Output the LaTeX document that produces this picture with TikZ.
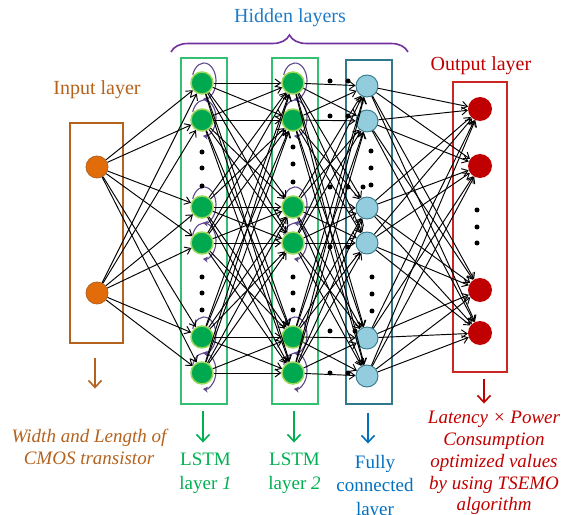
\documentclass[tikz,border=0pt]{standalone}
\usepackage{fontspec}
\setmainfont{Liberation Serif}
\usepackage{xcolor}
\usepackage{tikz}
\usetikzlibrary{positioning, arrows.meta, decorations.pathreplacing, backgrounds}

\definecolor{inbrown}{HTML}{B4621E}
\definecolor{inorange}{HTML}{E36C0A}
\definecolor{lgreen}{HTML}{00B050}
\definecolor{lgreenfill}{HTML}{00A84F}
\definecolor{lgreenedge}{HTML}{9BD85A}
\definecolor{loopviolet}{HTML}{5E4A8C}
\definecolor{fcfill}{HTML}{93CDDD}
\definecolor{fcedge}{HTML}{31788C}
\definecolor{fcblue}{HTML}{0070C0}
\definecolor{outred}{HTML}{C00000}
\definecolor{bracepurple}{HTML}{7030A0}
\definecolor{hidblue}{HTML}{1F7BC8}

\begin{document}
\begin{tikzpicture}[x=1pt,y=1pt]
	\tikzstyle{neuron}=[circle,minimum size=22pt,inner sep=0pt]
	\tikzstyle{innode}=[neuron,fill=inorange,draw=inbrown,line width=0.8pt]
	\tikzstyle{lstmnode}=[neuron,fill=lgreenfill,draw=lgreenedge,line width=1.5pt]
	\tikzstyle{fcnode}=[neuron,fill=fcfill,draw=fcedge,line width=0.9pt]
	\tikzstyle{outnode}=[neuron,minimum size=24pt,fill=outred]
	\tikzstyle{layerbox}=[rectangle,line width=1.1pt,inner sep=0pt]
	\tikzstyle{smalldot}=[circle,fill=black,inner sep=0pt,minimum size=5pt]
	\tikzstyle{link}=[line width=0.95pt,-{Straight Barb[length=5.5pt,width=8pt]}]
	\tikzstyle{rloop}=[line width=1.1pt,loopviolet,-{Stealth[length=5pt,width=6pt]}]
	\tikzstyle{downarrow}=[line width=1.6pt,-{Straight Barb[length=7pt,width=13pt]}]
	\tikzstyle{headtext}=[font=\fontsize{20}{24}\selectfont]
	\tikzstyle{foottext}=[font=\fontsize{19}{23.5}\selectfont,align=center,anchor=north,inner sep=0pt]
	\tikzstyle{footital}=[foottext,font=\fontsize{19}{21.8}\selectfont\itshape]

	\useasboundingbox (0,0) rectangle (566,515);

	% layer boxes
	\node[layerbox,draw=inbrown,minimum width=53pt,minimum height=220pt](inbox) at (96.5,282) {};
	\node[layerbox,draw=lgreen!80!white,minimum width=46pt,minimum height=346pt](lstmbox1) at (204,284) {};
	\node[layerbox,draw=lgreen!80!white,minimum width=46pt,minimum height=346pt](lstmbox2) at (295,284) {};
	\node[layerbox,draw=fcedge,minimum width=46pt,minimum height=344pt](fcbox) at (369,283) {};
	\node[layerbox,draw=outred!85!white,minimum width=54pt,minimum height=290pt](outbox) at (480,288) {};

	% neurons
	\node[innode](i1) at (97,348) {};
	\node[innode](i2) at (97,222) {};
	\foreach \r [count=\k] in {432,395,308,272,178,142} {
		\node[lstmnode](a\k) at (202,\r) {};
		\node[lstmnode](b\k) at (293,\r) {};
	}
	\foreach \r [count=\k] in {429,394,307,272,177,139}
		\node[fcnode](c\k) at (367,\r) {};
	\foreach \r [count=\k] in {406,349,225,182}
		\node[outnode](o\k) at (480,\r) {};

	% dots
	\foreach \x/\y [count=\k] in {202/363,202/347,202/329,202/238,202/222,202/205,
		293/368,293/351,293/333,293/238,293/222,293/205,
		371/364,371/347,371/330,363/328,372/238,372/221,372/204,
		477/305,477/288,477/272,
		330/434,348/434,330/399,348/399,330/328,348/328,
		330/268,348/268,330/184,355/184,330/142,348/142}
		\node[smalldot](d\k) at (\x,\y) {};

	% recurrent loops
	\begin{scope}[on background layer]
		\foreach \k in {1,...,6}
			\foreach \col in {a,b}
				\draw[rloop] ([shift={(2pt,2pt)}]\col\k.center) ++(160:12pt and 18pt)
					arc[start angle=160,end angle=-95,x radius=12pt,y radius=18pt];
	\end{scope}

	% connections
	\foreach \s in {1,2}
		\foreach \t in {1,...,6}
			\draw[link](i\s) -- (a\t);
	\foreach \s in {1,...,6}
		\foreach \t in {1,...,6} {
			\draw[link](a\s) -- (b\t);
			\draw[link](b\s) -- (c\t);
		}
	\foreach \s in {1,...,6}
		\foreach \t in {1,...,4}
			\draw[link](c\s) -- (o\t);

	% titles
	\node[headtext,text=inbrown](inlabel) at (97,425.5) {Input layer};
	\node[headtext,text=hidblue](hidlabel) at (290,497) {Hidden layers};
	\node[headtext,text=outred](outlabel) at (481,449.5) {Output layer};
	\draw[bracepurple,line width=1.6pt,decorate,decoration={brace,amplitude=17pt}] (171,463) -- (408,463);

	% arrows down to the descriptions
	\draw[downarrow,inbrown]([xshift=-1.5pt,yshift=-14pt]inbox.south) -- ++(0,-31);
	\draw[downarrow,lgreen]([xshift=-1pt,yshift=-6pt]lstmbox1.south) -- ++(0,-32);
	\draw[downarrow,lgreen]([xshift=-1pt,yshift=-6pt]lstmbox2.south) -- ++(0,-32);
	\draw[downarrow,fcblue]([xshift=-1pt,yshift=-8pt]fcbox.south) -- ++(0,-31);
	\draw[downarrow,outred]([xshift=4pt,yshift=-6pt]outbox.south) -- ++(0,-25);

	% descriptions
	\node[footital,text=inbrown](intext) at (89,86) {Width and Length of\\CMOS transistor};
	\node[foottext,text=lgreen](lstmtext1) at (205.5,62) {LSTM\\layer \textit{1}};
	\node[foottext,text=lgreen](lstmtext2) at (294.5,62) {LSTM\\layer \textit{2}};
	\node[foottext,text=fcblue](fctext) at (375,60) {Fully\\connected\\layer};
	\node[footital,text=outred](outtext) at (494,104) {Latency × Power\\Consumption\\optimized values\\by using TSEMO\\algorithm};
\end{tikzpicture}
\end{document}
